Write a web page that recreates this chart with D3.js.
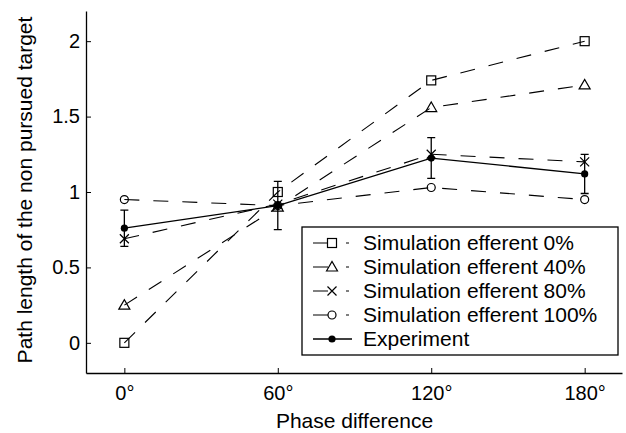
<!DOCTYPE html>
<html>
<head>
<meta charset="utf-8">
<script src="https://cdn.jsdelivr.net/npm/d3@7"></script>
<style>
body { margin: 0; background: #fff; }
text { font-family: "Liberation Sans", Arial, sans-serif; fill: #000; }
</style>
</head>
<body>
<div class="container"></div>
<script>
const phases = [0, 60, 120, 180];
const tickLabels = ["0°", "60°", "120°", "180°"];
const yTicks = [0, 0.5, 1, 1.5, 2];

const sim0   = [0, 1.0, 1.74, 2.0];
const sim40  = [0.25, 0.9, 1.56, 1.71];
const sim80  = [0.69, 0.92, 1.25, 1.2];
const sim100 = [0.95, 0.91, 1.03, 0.95];
const experiment    = [0.76, 0.91, 1.225, 1.12];
const experimentErr = [0.12, 0.16, 0.135, 0.13];

const seriesNames = ["Simulation efferent 0%", "Simulation efferent 40%",
                     "Simulation efferent 80%", "Simulation efferent 100%", "Experiment"];

const W = 626, H = 433;
const TICK_FONT = 20;
const FONT = 21;

var x = d3.scaleLinear().domain([-15, 194.6]).range([86, 622]);
var y = d3.scaleLinear().domain([-0.2, 2.2]).range([373, 11]);

var svg = d3.select(".container").append("svg")
    .attr("width", W)
    .attr("height", H);

// markers
var marker = function(g, type, cx, cy) {
    if (type == "square") {
        g.append("rect").attr("x", cx - 4.5).attr("y", cy - 4.5)
            .attr("width", 9).attr("height", 9)
            .attr("fill", "none").attr("stroke", "#000").attr("stroke-width", 1.2);
    } else if (type == "triangle") {
        g.append("path")
            .attr("d", "M" + (cx - 5.5) + "," + (cy + 4) + "L" + cx + "," + (cy - 5.5) + "L" + (cx + 5.5) + "," + (cy + 4) + "Z")
            .attr("fill", "none").attr("stroke", "#000").attr("stroke-width", 1.2);
    } else if (type == "cross") {
        g.append("path")
            .attr("d", "M" + (cx - 4.5) + "," + (cy - 4.5) + "L" + (cx + 4.5) + "," + (cy + 4.5) +
                       "M" + (cx - 4.5) + "," + (cy + 4.5) + "L" + (cx + 4.5) + "," + (cy - 4.5))
            .attr("fill", "none").attr("stroke", "#000").attr("stroke-width", 1.2);
    } else if (type == "circle") {
        g.append("circle").attr("cx", cx).attr("cy", cy).attr("r", 4)
            .attr("fill", "none").attr("stroke", "#000").attr("stroke-width", 1.2);
    } else if (type == "dot") {
        g.append("circle").attr("cx", cx).attr("cy", cy).attr("r", 3.6)
            .attr("fill", "#000");
    }
};

var sims = [
    {values: sim0, type: "square"},
    {values: sim40, type: "triangle"},
    {values: sim80, type: "cross"},
    {values: sim100, type: "circle"}
];

var line = d3.line()
    .x(function(d, i) { return x(phases[i]); })
    .y(function(d) { return y(d); });

var plot = svg.append("g");

sims.forEach(function(s) {
    plot.append("path")
        .attr("d", line(s.values))
        .attr("fill", "none")
        .attr("stroke", "#000")
        .attr("stroke-width", 1.1)
        .attr("stroke-dasharray", "15,14");
    s.values.forEach(function(v, i) {
        marker(plot, s.type, x(phases[i]), y(v));
    });
});

// experiment
plot.append("path")
    .attr("d", line(experiment))
    .attr("fill", "none")
    .attr("stroke", "#000")
    .attr("stroke-width", 1.3);

experiment.forEach(function(v, i) {
    var cx = x(phases[i]);
    var top = y(v + experimentErr[i]), bot = y(v - experimentErr[i]);
    plot.append("path")
        .attr("d", "M" + cx + "," + top + "L" + cx + "," + bot +
                   "M" + (cx - 4) + "," + top + "L" + (cx + 4) + "," + top +
                   "M" + (cx - 4) + "," + bot + "L" + (cx + 4) + "," + bot)
        .attr("fill", "none").attr("stroke", "#000").attr("stroke-width", 1.3);
    marker(plot, "dot", cx, y(v));
});

// axes
var xAxis = d3.axisBottom(x)
    .tickValues(phases)
    .tickFormat(function(d, i) { return tickLabels[i]; })
    .tickSizeInner(-5)
    .tickSizeOuter(0)
    .tickPadding(13);

var yAxis = d3.axisLeft(y)
    .tickValues(yTicks)
    .tickFormat(d3.format("~g"))
    .tickSizeInner(-5)
    .tickSizeOuter(0)
    .tickPadding(6);

var gx = svg.append("g").attr("transform", "translate(0," + y.range()[0] + ")").call(xAxis);
var gy = svg.append("g").attr("transform", "translate(" + x.range()[0] + ",0)").call(yAxis);

[gx, gy].forEach(function(g) {
    g.selectAll("path.domain").attr("stroke", "#000").attr("stroke-width", 1.3);
    g.selectAll(".tick line").attr("stroke", "#000").attr("stroke-width", 1);
    g.selectAll("text").attr("font-size", TICK_FONT).attr("font-family", null).attr("fill", "#000");
});

svg.append("text")
    .attr("x", x(90))
    .attr("y", 428)
    .attr("text-anchor", "middle")
    .attr("font-size", FONT)
    .text("Phase difference");

svg.append("text")
    .attr("transform", "translate(32,190) rotate(-90)")
    .attr("text-anchor", "middle")
    .attr("font-size", FONT)
    .text("Path length of the non pursued target");

// legend
var legend = svg.append("g");
legend.append("rect")
    .attr("x", 302).attr("y", 227)
    .attr("width", 316).attr("height", 128)
    .attr("fill", "#fff").attr("stroke", "#000").attr("stroke-width", 1.3);

var legendTypes = ["square", "triangle", "cross", "circle", "dot"];
var ly = d3.scalePoint().domain(d3.range(seriesNames.length)).range([243, 339]);

seriesNames.forEach(function(name, i) {
    var yy = ly(i);
    if (i < 4) {
        legend.append("line")
            .attr("x1", 313).attr("x2", 349).attr("y1", yy).attr("y2", yy)
            .attr("stroke", "#000").attr("stroke-width", 1.1)
            .attr("stroke-dasharray", "15,18,3,40");
    } else {
        legend.append("line")
            .attr("x1", 313).attr("x2", 352).attr("y1", yy).attr("y2", yy)
            .attr("stroke", "#000").attr("stroke-width", 1.3);
    }
    marker(legend, legendTypes[i], 332, yy);
    legend.append("text")
        .attr("x", 363)
        .attr("y", yy)
        .attr("dy", "0.35em")
        .attr("font-size", FONT)
        .text(name);
});
</script>
</body>
</html>
